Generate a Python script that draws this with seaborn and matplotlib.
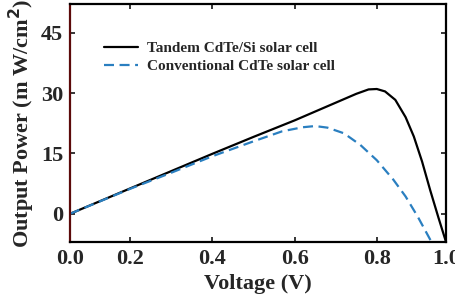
import numpy as np
import pandas as pd
import matplotlib
matplotlib.use('Agg')
import matplotlib.pyplot as plt
import seaborn as sns

# Values (voltage in V, power in mW/cm^2)
volt_tandem = [0.054, 0.2, 0.3, 0.4, 0.5, 0.6, 0.7, 0.75, 0.78, 0.80, 0.82,
               0.845, 0.87, 0.89, 0.91, 0.93, 0.95, 0.968]
power_tandem = [0, 6.3, 10.6, 14.9, 19.1, 23.2, 27.6, 29.8, 30.9, 31.0, 30.4,
                28.3, 24.0, 19.2, 13.0, 5.8, -1.0, -6.9]

volt_conv = [0.054, 0.2, 0.3, 0.4, 0.5, 0.57, 0.62, 0.65, 0.68, 0.72, 0.76,
             0.80, 0.84, 0.87, 0.90, 0.934]
power_conv = [0, 6.2, 10.2, 14.3, 18.0, 20.5, 21.5, 21.8, 21.4, 20.0, 17.1,
              13.3, 8.5, 4.3, -0.8, -7.2]

labels = ['Tandem CdTe/Si solar cell', 'Conventional CdTe solar cell']

x_ticks = [0.054, 0.2, 0.4, 0.6, 0.8, 0.968]
x_ticklabels = ['0.0', '0.2', '0.4', '0.6', '0.8', '1.0']
y_ticks = [0, 15, 30, 45]

sns.set_style('ticks')
plt.rcParams['font.family'] = ['Liberation Serif', 'DejaVu Serif']
plt.rcParams['font.weight'] = 'bold'

df_t = pd.DataFrame({'V': volt_tandem, 'P': power_tandem})
df_c = pd.DataFrame({'V': volt_conv, 'P': power_conv})

fig = plt.figure(figsize=(4.55, 2.98), dpi=100)
ax = fig.add_axes([0.154, 0.188, 0.826, 0.797])

sns.lineplot(x='V', y='P', data=df_t, ax=ax, color='black', lw=1.6,
             sort=False, label=labels[0])
sns.lineplot(x='V', y='P', data=df_c, ax=ax, color='#2a7fc0', lw=1.6,
             sort=False, label=labels[1], dashes=False)
ax.lines[1].set_linestyle((0, (4.5, 2.5)))

ax.set_xlim(0.054, 0.968)
ax.set_ylim(-7, 52)
ax.set_xticks(x_ticks)
ax.set_xticklabels(x_ticklabels)
ax.set_yticks(y_ticks)
ax.tick_params(direction='in', length=3.5, width=1.3, top=True, right=True,
               labelsize=16, pad=5)
for s in ax.spines.values():
    s.set_linewidth(1.6)
    s.set_color('black')
ax.spines['left'].set_color('#5c0a0a')

ax.set_xlabel('Voltage (V)', fontsize=16, fontweight='bold', labelpad=4)
ax.set_ylabel('Output Power (m W/cm$^\\mathbf{2}$)', fontsize=16,
              fontweight='bold', labelpad=3)

ax.legend(loc='upper left', bbox_to_anchor=(0.075, 0.87), frameon=False,
          prop={'size': 11, 'weight': 'bold'}, handlelength=2.2,
          handletextpad=0.6, labelspacing=0.3, borderaxespad=0)

fig.savefig('out.png', dpi=100)
